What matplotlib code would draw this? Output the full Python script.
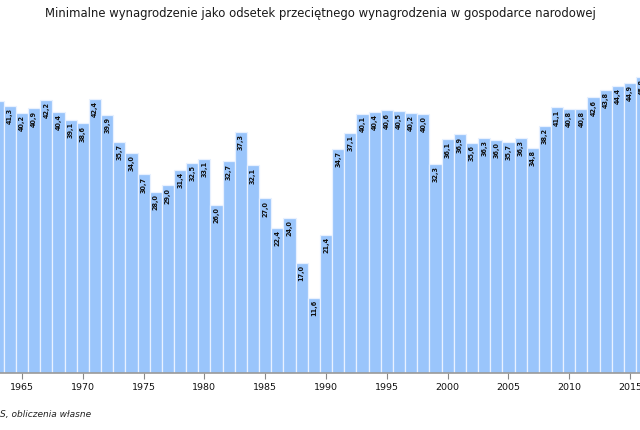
import matplotlib
matplotlib.use("Agg")
import matplotlib.pyplot as plt

# Data: minimum wage as % of average wage
years = list(range(1963, 2017))
values = [42.0, 41.3, 40.2, 40.9, 42.2, 40.4, 39.1, 38.6, 42.4, 39.9,
          35.7, 34.0, 30.7, 28.0, 29.0, 31.4, 32.5, 33.1, 26.0, 32.7,
          37.3, 32.1, 27.0, 22.4, 24.0, 17.0, 11.6, 21.4, 34.7, 37.1,
          40.1, 40.4, 40.6, 40.5, 40.2, 40.0, 32.3, 36.1, 36.9, 35.6,
          36.3, 36.0, 35.7, 36.3, 34.8, 38.2, 41.1, 40.8, 40.8, 42.6,
          43.8, 44.4, 44.9, 45.8]
tick_years = [1965, 1970, 1975, 1980, 1985, 1990, 1995, 2000, 2005, 2010, 2015]

title = "Minimalne wynagrodzenie jako odsetek przeciętnego wynagrodzenia w gospodarce narodowej"
source = "S, obliczenia własne"

fig = plt.figure(figsize=(6.4, 4.3), dpi=100)
ax = fig.add_axes([0.0, 57 / 430, 1.0, 339 / 430])

bars = ax.bar(years, values, width=1.0, color="#9ac5fb",
              edgecolor="#e8f1ff", linewidth=0.9)

for x, v in zip(years, values):
    ax.text(x, v - 0.35, f"{v:.1f}".replace(".", ","), rotation=90,
            ha="center", va="top", fontsize=4.7, fontweight="bold",
            color="#111111")

ax.set_xlim(1963.19, 2015.82)
ax.set_ylim(0, 52.4)

for s in ["left", "right", "top"]:
    ax.spines[s].set_visible(False)
ax.spines["bottom"].set_color("#999999")
ax.spines["bottom"].set_linewidth(1.2)
ax.set_yticks([])
ax.set_xticks(tick_years)
ax.set_xticklabels([str(y) for y in tick_years])
ax.tick_params(axis="x", length=4, width=0.8, color="#888888",
               labelsize=6.8, pad=3, labelcolor="#111111")

fig.text(0.5, 1 - 14 / 430, title, ha="center", va="center", fontsize=8.4,
         color="#1a1a1a")
fig.text(0.0, 1 - 415 / 430, source, ha="left", va="center", fontsize=6.5,
         style="italic", color="#222222")

fig.savefig("out.png", dpi=100)
